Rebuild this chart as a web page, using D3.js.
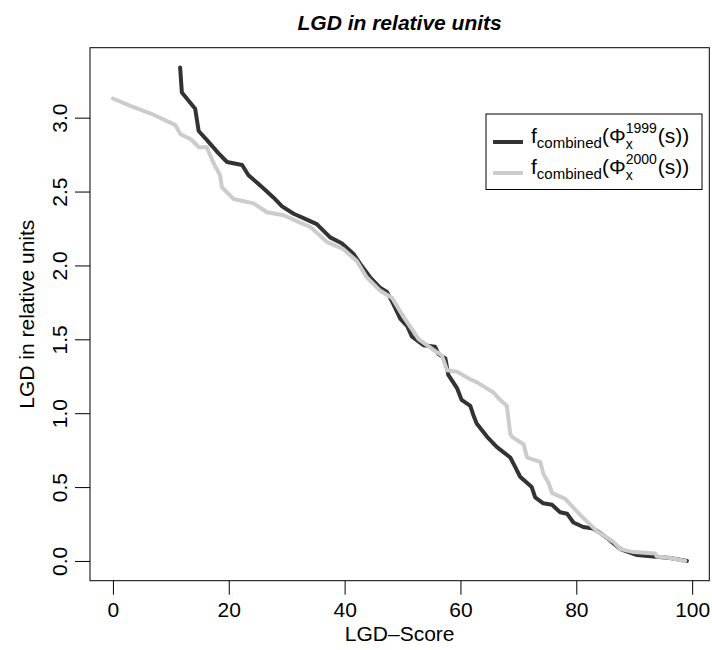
<!DOCTYPE html>
<html>
<head>
<meta charset="utf-8">
<script src="https://cdn.jsdelivr.net/npm/d3@7"></script>
<style>
  body { margin: 0; background: #ffffff; }
  svg { display: block; font-family: "Liberation Sans", Arial, Helvetica, sans-serif; }
</style>
</head>
<body>
<div id="chart"></div>
<script>
// LGD curves
const score1999 = [11.6, 11.9, 14.2, 14.8, 16.2, 18.2, 19.7, 22.3, 23.4, 24.9, 26.3, 27.7, 29.2, 31.2, 32.9, 35.2,
  37.5, 39.5, 41.5, 42.7, 44.4, 46.1, 47.3, 48.4, 49.6, 50.8, 51.6, 53.6, 55.6, 56.2, 57.4, 57.9, 59.4, 60.2,
  61.7, 62.2, 62.8, 64.6, 66.3, 68.6, 69.4, 70.3, 72.3, 72.9, 74.3, 75.8, 77.2, 78.4, 79.5, 81.2, 82.9, 84.1,
  85.8, 87.6, 90.5, 93.3, 96.2, 99.1];
const lgd1999 = [3.34, 3.17, 3.06, 2.91, 2.85, 2.76, 2.70, 2.68, 2.61, 2.56, 2.51, 2.46, 2.40, 2.35, 2.32, 2.28,
  2.19, 2.15, 2.08, 2.01, 1.92, 1.85, 1.82, 1.74, 1.64, 1.59, 1.52, 1.46, 1.45, 1.40, 1.37, 1.26, 1.17, 1.09,
  1.05, 0.99, 0.93, 0.84, 0.77, 0.70, 0.64, 0.57, 0.50, 0.43, 0.39, 0.38, 0.33, 0.32, 0.26, 0.23, 0.22, 0.19,
  0.14, 0.08, 0.04, 0.03, 0.02, 0.00];

const score2000 = [0, 3.0, 7.0, 10.8, 11.6, 13.6, 14.8, 16.2, 17.4, 18.5, 18.8, 20.8, 24.3, 26.6, 29.5, 32.3,
  34.1, 36.9, 39.8, 42.1, 43.8, 46.1, 48.2, 50.2, 52.8, 55.3, 56.8, 57.7, 59.4, 61.7, 62.8, 65.7, 66.6, 68.0,
  68.6, 68.9, 70.9, 71.5, 73.8, 74.3, 75.2, 75.8, 78.1, 80.7, 83.6, 86.4, 87.6, 89.9, 93.6, 93.9, 96.2, 98.8];
const lgd2000 = [3.13, 3.08, 3.02, 2.95, 2.89, 2.85, 2.80, 2.80, 2.69, 2.61, 2.53, 2.45, 2.42, 2.36, 2.34, 2.29,
  2.26, 2.16, 2.11, 2.03, 1.92, 1.83, 1.78, 1.65, 1.50, 1.43, 1.39, 1.29, 1.28, 1.23, 1.21, 1.14, 1.10, 1.05,
  0.86, 0.84, 0.79, 0.70, 0.67, 0.59, 0.53, 0.46, 0.42, 0.31, 0.20, 0.13, 0.08, 0.06, 0.05, 0.03, 0.02, 0.00];

const xTicks = [0, 20, 40, 60, 80, 100];
const yTicks = [0.0, 0.5, 1.0, 1.5, 2.0, 2.5, 3.0];
const legendYears = ["1999", "2000"];
const seriesColors = ["#333333", "#cccccc"];

const W = 712, H = 650;
const box = {left: 90, right: 709.3, top: 47.7, bottom: 580.7};
const fontSize = 21;

const svg = d3.select("#chart").append("svg")
    .attr("width", W)
    .attr("height", H);

// R style limits: data range plus 4% each side
const x = d3.scaleLinear().domain([-3.96, 102.96]).range([box.left, box.right]);
const y = d3.scaleLinear().domain([-0.1336, 3.4736]).range([box.bottom, box.top]);

// X axis
const xAxis = svg.append("g")
    .attr("transform", "translate(0," + box.bottom + ")")
    .call(d3.axisBottom(x).tickValues(xTicks).tickSize(14).tickPadding(7).tickFormat(d3.format("d")));
xAxis.select(".domain").remove();
xAxis.selectAll("line").attr("stroke", "#000");
xAxis.selectAll("text")
    .attr("font-size", fontSize)
    .attr("font-family", "Liberation Sans, Arial, sans-serif")
    .attr("fill", "#000");

// Y axis, labels turned like R's las=0
const yAxis = svg.append("g")
    .attr("transform", "translate(" + box.left + ",0)")
    .call(d3.axisLeft(y).tickValues(yTicks).tickSize(15).tickFormat(d3.format(".1f")));
yAxis.select(".domain").remove();
yAxis.selectAll("line").attr("stroke", "#000");
yAxis.selectAll("text")
    .attr("font-size", fontSize)
    .attr("font-family", "Liberation Sans, Arial, sans-serif")
    .attr("fill", "#000")
    .attr("text-anchor", "middle")
    .attr("transform", "rotate(-90)")
    .attr("x", 0)
    .attr("y", -23.3)
    .attr("dy", 0);

// the lines
const line = d3.line()
    .x(d => x(d[0]))
    .y(d => y(d[1]));

const series = [
    d3.zip(score1999, lgd1999),
    d3.zip(score2000, lgd2000)
];

series.forEach((s, i) => {
    svg.append("path")
        .datum(s)
        .attr("fill", "none")
        .attr("stroke", seriesColors[i])
        .attr("stroke-width", 4)
        .attr("stroke-linejoin", "round")
        .attr("stroke-linecap", "round")
        .attr("d", line);
});

// box around plot
svg.append("rect")
    .attr("x", box.left)
    .attr("y", box.top)
    .attr("width", box.right - box.left)
    .attr("height", box.bottom - box.top)
    .attr("fill", "none")
    .attr("stroke", "#000")
    .attr("stroke-width", 1);

// title
svg.append("text")
    .attr("x", (box.left + box.right) / 2)
    .attr("y", 30)
    .attr("text-anchor", "middle")
    .attr("font-size", fontSize)
    .attr("font-weight", "bold")
    .attr("font-style", "italic")
    .text("LGD in relative units");

// axis labels
svg.append("text")
    .attr("x", (box.left + box.right) / 2)
    .attr("y", 641)
    .attr("text-anchor", "middle")
    .attr("font-size", fontSize)
    .text("LGD\u2013Score");

svg.append("text")
    .attr("transform", "rotate(-90)")
    .attr("x", -(box.top + box.bottom) / 2)
    .attr("y", 34)
    .attr("text-anchor", "middle")
    .attr("font-size", fontSize)
    .text("LGD in relative units");

// legend
const legend = svg.append("g");
legend.append("rect")
    .attr("x", 486)
    .attr("y", 114)
    .attr("width", 216)
    .attr("height", 75.5)
    .attr("fill", "#fff")
    .attr("stroke", "#000")
    .attr("stroke-width", 1);

legendYears.forEach((yr, i) => {
    const ly = 142 + i * 31;
    const base = ly + 1;
    legend.append("line")
        .attr("x1", 493).attr("x2", 523)
        .attr("y1", ly).attr("y2", ly)
        .attr("stroke", seriesColors[i])
        .attr("stroke-width", 4);

    // whole label as one text element, pieces as tspans
    const label = legend.append("text");
    let cx = 531;
    const part = (txt, size, dy) => label.append("tspan")
        .attr("x", cx)
        .attr("y", base + dy)
        .attr("font-size", size)
        .text(txt);
    const len = t => t.node().getComputedTextLength();

    cx += len(part("f", fontSize, 0));
    cx += len(part("combined", 15, 5));
    cx += len(part("(\u03A6", fontSize, 0));
    const wSup = len(part(yr, 14, -10));
    const wSub = len(part("x", 14, 6));
    cx += Math.max(wSup, wSub) + 1;
    part("(s))", fontSize, 0);
});
</script>
</body>
</html>
